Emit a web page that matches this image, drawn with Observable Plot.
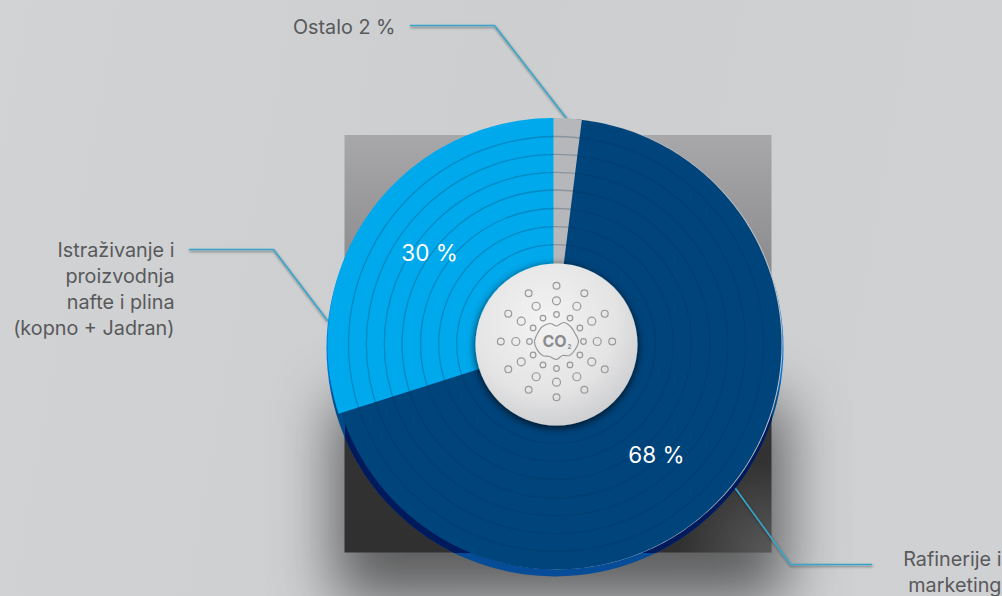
<!DOCTYPE html>
<html><head><meta charset="utf-8">
<script src="https://cdn.jsdelivr.net/npm/d3@7"></script>
<script src="https://cdn.jsdelivr.net/npm/@observablehq/plot@0.6"></script>
<style>
html,body{margin:0;padding:0;width:1002px;height:596px;overflow:hidden;background:linear-gradient(100deg,#d2d3d5 0%,#cdced0 45%,#d0d1d3 100%);}
svg{display:block;}
</style></head><body>
<script>
const segments = ["Rafinerije i marketing", "Ostalo", "Istraživanje i proizvodnja nafte i plina (kopno + Jadran)"];
const shares = [68, 2, 30];
const startShares = [2, 0, 70];
const colors = ["#00447c", "#b6b7ba", "#00a8ec"];
const shareLabels = [
  {text: "30 %", x: 429, y: 253},
  {text: "68 %", x: 656, y: 455}
];
const calloutLabels = [
  {text: "Ostalo 2 %", x: 395, y: 25},
  {text: "Istraživanje i\nproizvodnja\nnafte i plina\n(kopno + Jadran)", x: 174, y: 287},
  {text: "Rafinerije i\nmarketing", x: 1001, y: 570}
];
const leaders = [
  [[410,25],[494,25],[567,119]],
  [[189,249],[273,249],[327,320]],
  [[735,488],[790,564],[871,564]]
];
const ringRadii = [207.5,189.7,171.7,154,135.5,117.3,99.3];
const cx = 553.5, cy = 345.5;
const arcs = [{cx: 556, cy: 344, R: 225.5, pad: 2}, {cx: 553.5, cy: 344, R: 226, pad: 0}, {cx: 553.5, cy: 344, R: 226, pad: 0}];
const dx = 556, dy = 341;
const bubbleRings = [{r:55.7,s:3.4},{r:40.7,s:4},{r:27,s:2.8}];
const cloud = [[-6,-18],[0,-15.5],[7,-19],[14,-15],[18,-9],[22,0],[18,9],[13,14],[6,14],[0,18],[-7,15],[-14,14],[-20,7],[-22,0],[-19,-8],[-14,-15]];

const total = d3.sum(shares);
const slicePts = [];
shares.forEach((v, i) => {
  const g = arcs[i];
  const a0 = startShares[i] / total * 360 - g.pad, a1 = (startShares[i] + v) / total * 360 + g.pad;
  for (let a = a0; ; a += 1) {
    const t = Math.min(a, a1) * Math.PI / 180;
    slicePts.push({seg: segments[i], x1: cx, y1: cy, x2: g.cx + g.R * Math.sin(t), y2: g.cy - g.R * Math.cos(t)});
    if (a >= a1) break;
  }
});
const bubbles = bubbleRings.flatMap(b => d3.range(12).map(k => ({
  x: dx + b.r * Math.sin(k * Math.PI / 6),
  y: dy - b.r * Math.cos(k * Math.PI / 6),
  s: b.s
})));
const withAttr = (attrs) => (index, scales, values, dims, ctx, next) => {
  const g = next(index, scales, values, dims, ctx);
  for (const [k, v] of Object.entries(attrs)) g.setAttribute(k, v);
  return g;
};
const defs = () => d3.create("svg:defs").html(`
  <linearGradient id="sq" x1="0" y1="0" x2="0" y2="1">
    <stop offset="0" stop-color="#a8a8aa"/><stop offset=".32" stop-color="#8c8c8e"/>
    <stop offset=".68" stop-color="#333333"/><stop offset="1" stop-color="#303030"/>
  </linearGradient>
  <radialGradient id="sqc" cx="1" cy="1" r=".22">
    <stop offset="0" stop-color="#fff" stop-opacity=".2"/><stop offset="1" stop-color="#fff" stop-opacity="0"/>
  </radialGradient>
  <linearGradient id="lip" x1="0" y1="0" x2="0" y2="1">
    <stop offset=".55" stop-color="#0074e0"/><stop offset=".62" stop-color="#004a88"/><stop offset="1" stop-color="#064c98"/>
  </linearGradient>
  <radialGradient id="disc" cx=".42" cy=".35" r=".75">
    <stop offset="0" stop-color="#f3f3f3"/><stop offset=".6" stop-color="#e4e4e5"/><stop offset="1" stop-color="#c6c7c9"/>
  </radialGradient>
  <linearGradient id="lipdark" x1="0" y1="0" x2="0" y2="1">
    <stop offset=".6" stop-color="#004a88"/><stop offset=".66" stop-color="#001a5c"/>
  </linearGradient>
  <filter id="blur" x="-60%" y="-60%" width="220%" height="220%"><feGaussianBlur stdDeviation="30"/></filter>
  <filter id="ls" x="-20%" y="-20%" width="140%" height="140%"><feDropShadow dx="0.5" dy="1.5" stdDeviation="1" flood-color="#000" flood-opacity=".5"/></filter>
  <filter id="ds" x="-20%" y="-20%" width="140%" height="140%"><feDropShadow dx="0" dy="2" stdDeviation="4" flood-color="#000" flood-opacity=".8"/></filter>
  <clipPath id="sqclip"><rect x="344.5" y="135" width="427" height="417.5"/></clipPath>
`).node();

const one = [0];
const plot = Plot.plot({
  width: 1002, height: 596, margin: 0,
  style: {background: "transparent", overflow: "hidden"},
  x: {domain: [0, 1002], range: [0, 1002], axis: null},
  y: {domain: [0, 596], range: [0, 596], axis: null},
  r: {type: "identity"},
  color: {domain: segments, range: colors},
  marks: [
    defs,
    // soft shadow behind the square
    Plot.rect(one, {x1: 335, x2: 785, y1: 400, y2: 600, fill: "#000", fillOpacity: 0.55, render: withAttr({filter: "url(#blur)"})}),
    Plot.rect(one, {x1: 344.5, x2: 771.5, y1: 135, y2: 552.5, fill: "url(#sq)"}),
    Plot.rect(one, {x1: 344.5, x2: 771.5, y1: 135, y2: 552.5, fill: "url(#sqc)"}),
    // leader lines
    ...leaders.map(l => Plot.line(l, {x: d => d[0], y: d => d[1], stroke: "#38a5c8", strokeWidth: 1.6, strokeLinejoin: "miter", mixBlendMode: "multiply", render: withAttr({filter: "url(#ls)"})})),
    // lip below the pie
    Plot.dot(one, {x: () => 554.5, y: () => 347.5, r: () => 228.5, fill: "url(#lip)"}),
    Plot.dot(one, {x: () => 554.5, y: () => 347.5, r: () => 228.5, fill: "url(#lipdark)", render: withAttr({"clip-path": "url(#sqclip)"})}),
    Plot.dot(one, {x: () => 556.6, y: () => 343.4, r: () => 225.5, fill: "#c2c2c4"}),
    // slices
    Plot.area(slicePts, {x1: "x1", y1: "y1", x2: "x2", y2: "y2", z: "seg", fill: "seg"}),
    // concentric rings
    Plot.dot(ringRadii, {x: () => 555.5, y: () => 343.5, r: d => d, fill: "none", stroke: "#003050", strokeOpacity: 0.25, strokeWidth: 1.3}),
    // central disc
    Plot.dot(one, {x: () => 556, y: () => 344, r: () => 81, fill: "url(#disc)", render: withAttr({filter: "url(#ds)"})}),
    Plot.dot(bubbles, {x: "x", y: "y", r: "s", fill: "none", stroke: "#98999b", strokeWidth: 1.2}),
    Plot.line(cloud, {x: d => dx + d[0], y: d => dy + d[1], curve: "catmull-rom-closed", stroke: "#98999b", strokeWidth: 1.2}),
    Plot.text(["CO"], {x: () => dx - 2, y: () => dy + 0.5, text: d => d, fontFamily: "Inter", fontWeight: 700, fontSize: 16, fill: "#8a8b8d"}),
    Plot.text(["2"], {x: () => dx + 13, y: () => dy + 6, text: d => d, fontFamily: "Inter", fontWeight: 700, fontSize: 6, fill: "#8a8b8d"}),
    // texts
    Plot.text(shareLabels, {x: "x", y: "y", text: "text", fontFamily: "Inter", fontSize: 22.5, fill: "#fff"}),
    Plot.text(calloutLabels, {x: "x", y: "y", text: "text", textAnchor: "end", fontFamily: "Inter", fontSize: 19.8, lineHeight: 1.31, fill: "#58595b"})
  ]
});
document.body.appendChild(plot);
</script>
</body></html>
